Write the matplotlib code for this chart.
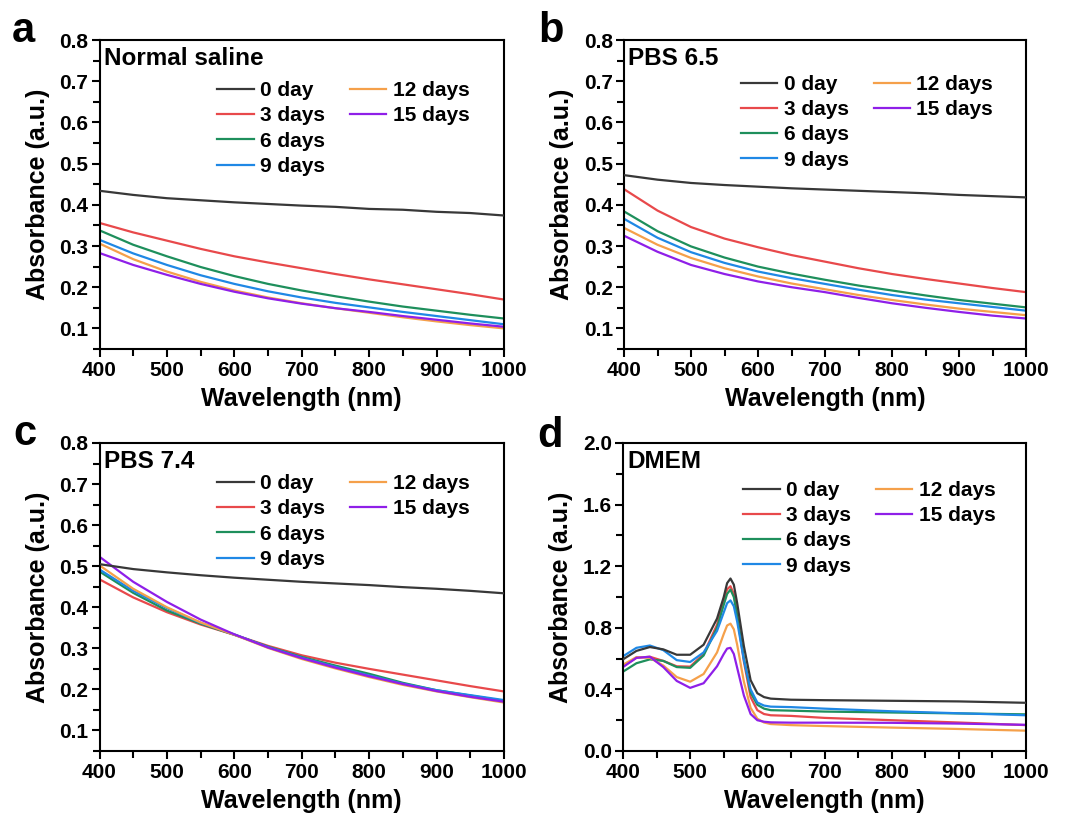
import matplotlib
matplotlib.use("Agg")
import matplotlib.pyplot as plt
from matplotlib.ticker import MultipleLocator
from matplotlib.lines import Line2D

plt.rcParams['font.family'] = ['Liberation Sans', 'DejaVu Sans']
plt.rcParams['font.weight'] = 'bold'
plt.rcParams['axes.labelweight'] = 'bold'

labels = ["0 day", "3 days", "6 days", "9 days", "12 days", "15 days"]
colors = ["#383838", "#e8494b", "#1e8f5c", "#1f88e5", "#f5a04a", "#8f1fe8"]

# wavelengths for the three smooth panels (nm)
wl = [400, 450, 500, 550, 600, 650, 700, 750, 800, 850, 900, 950, 1000]

# a: normal saline, one row per day
saline = [
    [.434, .424, .416, .411, .406, .402, .398, .395, .390, .388, .383, .380, .374],
    [.356, .333, .313, .293, .275, .260, .246, .232, .219, .207, .195, .183, .170],
    [.338, .303, .275, .249, .227, .208, .192, .178, .165, .153, .143, .133, .124],
    [.315, .282, .254, .229, .208, .190, .175, .162, .151, .140, .130, .120, .110],
    [.306, .268, .238, .213, .192, .175, .161, .149, .138, .127, .117, .108, .100],
    [.283, .254, .230, .208, .189, .173, .160, .149, .140, .130, .121, .112, .104],
]

# b: PBS 6.5
pbs65 = [
    [.472, .461, .453, .448, .444, .440, .437, .434, .431, .428, .424, .421, .418],
    [.438, .386, .346, .318, .297, .278, .262, .246, .232, .220, .209, .198, .188],
    [.384, .336, .299, .272, .250, .233, .218, .204, .192, .180, .169, .160, .151],
    [.366, .320, .285, .259, .238, .222, .208, .194, .181, .170, .161, .152, .143],
    [.344, .303, .271, .246, .226, .209, .195, .181, .169, .158, .148, .140, .132],
    [.325, .286, .254, .232, .214, .200, .188, .174, .161, .150, .140, .131, .124],
]

# c: PBS 7.4
pbs74 = [
    [.505, .493, .485, .478, .472, .467, .462, .458, .454, .449, .445, .440, .434],
    [.468, .424, .388, .358, .333, .306, .283, .265, .250, .236, .222, .208, .195],
    [.487, .435, .392, .360, .333, .304, .279, .258, .238, .216, .198, .185, .172],
    [.492, .440, .398, .362, .334, .303, .277, .255, .234, .214, .198, .186, .174],
    [.502, .445, .400, .363, .333, .301, .274, .251, .230, .211, .195, .181, .168],
    [.523, .462, .413, .370, .334, .302, .276, .253, .232, .213, .196, .182, .170],
]

# d: DMEM, denser sampling around the 560 nm band
wl_dmem = [400, 420, 440, 460, 480, 500, 520, 540, 550, 555, 560, 565, 570,
           580, 590, 600, 610, 620, 650, 700, 800, 900, 1000]
dmem = [
    [.595, .650, .675, .660, .625, .625, .690, .860, 1.00, 1.09, 1.12, 1.08, .960,
     .680, .460, .375, .350, .340, .333, .330, .326, .322, .313],
    [.550, .605, .612, .585, .550, .548, .630, .820, .980, 1.05, 1.07, 1.02, .880,
     .580, .350, .265, .240, .232, .228, .215, .200, .185, .168],
    [.515, .570, .595, .585, .545, .540, .620, .800, .950, 1.02, 1.048, 1.00, .880,
     .600, .380, .300, .275, .265, .262, .256, .250, .244, .238],
    [.615, .670, .685, .655, .590, .578, .640, .780, .900, .960, .978, .940, .840,
     .590, .400, .315, .295, .288, .285, .275, .258, .245, .232],
    [.560, .610, .605, .555, .480, .450, .500, .640, .760, .815, .827, .790, .690,
     .450, .280, .210, .185, .175, .168, .162, .152, .143, .132],
    [.545, .605, .612, .545, .455, .410, .440, .550, .630, .665, .670, .630, .540,
     .360, .240, .200, .190, .186, .184, .184, .183, .178, .170],
]

W, H = 1065, 818
fig = plt.figure(figsize=(W / 100, H / 100), dpi=100)


def box(left, top, right, bottom):
    return [left / W, 1 - bottom / H, (right - left) / W, (bottom - top) / H]


panels = [
    ("a", "Normal saline", wl, saline, box(99.5, 40, 504, 349), (12, 42), (0.05, 0.8), 0.1, 0.05, (0.291, 0.867)),
    ("b", "PBS 6.5", wl, pbs65, box(624, 40, 1026, 349), (538, 42), (0.05, 0.8), 0.1, 0.05, (0.291, 0.887)),
    ("c", "PBS 7.4", wl, pbs74, box(99.5, 443, 504, 751), (13, 445), (0.05, 0.8), 0.1, 0.05, (0.291, 0.899)),
    ("d", "DMEM", wl_dmem, dmem, box(623, 443, 1026, 751), (537, 447), (0.0, 2.0), 0.4, 0.2, (0.298, 0.877)),
]

for letter, title, x, rows, rect, lpos, ylim, ymaj, ymin, legpos in panels:
    ax = fig.add_axes(rect)
    lines = []
    for y, lab, col in zip(rows, labels, colors):
        ln, = ax.plot(x, y, color=col, lw=1.6, label=lab)
        lines.append(ln)
    # black curve sits on top like the original
    lines[0].set_zorder(3)
    ax.set_xlim(400, 1000)
    ax.set_ylim(*ylim)
    ax.xaxis.set_major_locator(MultipleLocator(100))
    ax.xaxis.set_minor_locator(MultipleLocator(50))
    ax.yaxis.set_major_locator(MultipleLocator(ymaj))
    ax.yaxis.set_minor_locator(MultipleLocator(ymin))
    for s in ax.spines.values():
        s.set_linewidth(1.5)
    ax.tick_params(which='both', direction='out', width=1.5, labelsize=15)
    ax.tick_params(which='major', length=5.5)
    ax.tick_params(which='minor', length=5)
    ax.tick_params(axis='x', pad=3)
    ax.tick_params(axis='y', pad=2.5)
    ax.set_xlabel("Wavelength (nm)", fontsize=18, labelpad=5)
    ax.set_ylabel("Absorbance (a.u.)", fontsize=18, labelpad=7)
    ax.text(0.01, 1 - 25 / 309, title, transform=ax.transAxes, fontsize=17.5,
            fontweight='bold', va='baseline', ha='left')
    blank = Line2D([], [], color='none')
    ax.legend(lines + [blank, blank], labels + ['', ''], ncol=2, frameon=False,
              loc='upper left', bbox_to_anchor=legpos, borderpad=0, borderaxespad=0,
              fontsize=15, handlelength=1.75, handletextpad=0.3,
              labelspacing=0.3, columnspacing=1.2)
    fig.text(lpos[0] / W, 1 - lpos[1] / H, letter, fontsize=30, fontweight='bold',
             va='baseline', ha='left')

fig.savefig("out.png", dpi=100)
